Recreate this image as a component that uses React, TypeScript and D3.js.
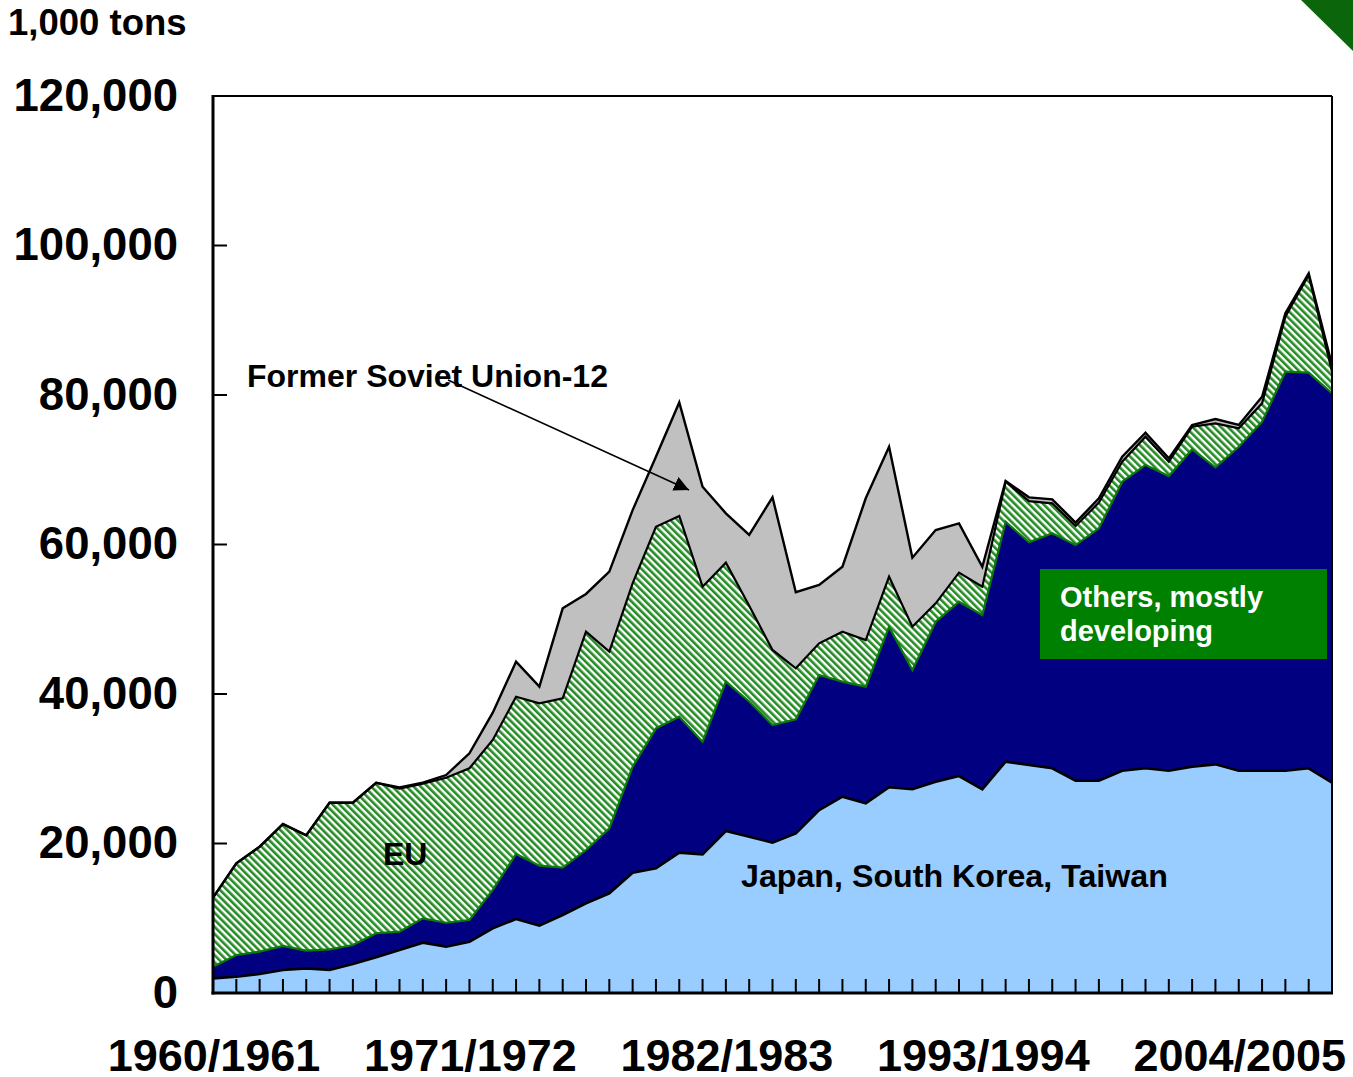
import React, { useEffect, useRef } from "react";
import * as d3 from "d3";

const years = d3.range(1960, 2009);
const japanKoreaTaiwan = [1960, 2180, 2540, 3080, 3300, 3080, 3880, 4770, 5750, 6730, 6200, 6860, 8650, 9900, 9010, 10430, 12000, 13340, 16100, 16680, 18770, 18550, 21670, 20910, 20110, 21360, 24480, 26260, 25370, 27520, 27250, 28270, 29030, 27250, 30940, 30500, 30060, 28410, 28410, 29740, 30060, 29740, 30280, 30590, 29740, 29740, 29740, 30060, 28140];
const othersDeveloping = [1560, 2900, 2990, 3210, 2360, 2760, 2540, 3220, 2450, 3260, 3200, 2910, 5150, 8700, 8020, 6340, 7130, 8690, 14180, 18730, 18190, 15070, 19980, 18090, 15740, 15250, 18060, 15390, 15610, 21480, 15960, 21400, 23320, 23320, 32110, 29800, 31440, 31520, 33750, 38660, 40580, 39420, 42450, 39740, 43340, 46690, 53380, 52930, 52090];
const eu = [9230, 12270, 14040, 16310, 15440, 19620, 19040, 20140, 19130, 18010, 19400, 20290, 20050, 21040, 21720, 22650, 29210, 23630, 24530, 26970, 26850, 20740, 15920, 12800, 10040, 6830, 4240, 6690, 6240, 6690, 5790, 2460, 3880, 3790, 5350, 5500, 4010, 2550, 3440, 2680, 3780, 1920, 3030, 5880, 2460, 2450, 7360, 13060, 2890];
const formerSovietUnion12 = [0, 0, 0, 0, 0, 0, 0, 0, 170, 130, 360, 2010, 3650, 4680, 2230, 12040, 5040, 10710, 9790, 9370, 15190, 13370, 6600, 9500, 20420, 10170, 7800, 8690, 18960, 17390, 9240, 9810, 6600, 2670, 100, 510, 530, 440, 580, 670, 540, 450, 230, 580, 450, 890, 450, 230, 890];

const yTicks = [0, 20000, 40000, 60000, 80000, 100000, 120000];
const xLabelYears = [1960, 1971, 1982, 1993, 2004];

const FONT = "'Liberation Sans', Arial, Helvetica, sans-serif";

export default function App() {
  const ref = useRef<SVGSVGElement>(null);

  useEffect(() => {
    const svg = d3.select(ref.current);
    svg.selectAll("*").remove();

    const left = 213, right = 1332, top = 96, bottom = 993;
    const x = d3.scaleLinear().domain([1960, 2008]).range([left, right]);
    const y = d3.scaleLinear().domain([0, 120000]).range([bottom, top]);

    const defs = svg.append("defs");
    const pat = defs.append("pattern")
      .attr("id", "hatch")
      .attr("patternUnits", "userSpaceOnUse")
      .attr("width", 5)
      .attr("height", 5)
      .attr("patternTransform", "rotate(-45)");
    pat.append("rect").attr("width", 5).attr("height", 5).attr("fill", "#ffffff");
    pat.append("rect").attr("width", 2.6).attr("height", 5).attr("fill", "#228b22");

    defs.append("marker")
      .attr("id", "arrow")
      .attr("viewBox", "0 0 10 10")
      .attr("refX", 10).attr("refY", 5)
      .attr("markerWidth", 15).attr("markerHeight", 15)
      .attr("markerUnits", "userSpaceOnUse")
      .attr("orient", "auto")
      .append("path").attr("d", "M0,0 L10,5 L0,10 Z").attr("fill", "#000");

    // corner decoration
    svg.append("path")
      .attr("d", "M1301,0 L1353,0 L1353,51 Z")
      .attr("fill", "#0b650b");

    const table = years.map((yr, i) => ({
      year: yr,
      japan: japanKoreaTaiwan[i],
      others: othersDeveloping[i],
      eu: eu[i],
      fsu: formerSovietUnion12[i],
    }));
    const keys = ["japan", "others", "eu", "fsu"];
    const stacked = d3.stack<any>().keys(keys)(table);

    const fills: Record<string, string> = {
      japan: "#99ccff",
      others: "#000080",
      eu: "url(#hatch)",
      fsu: "#c0c0c0",
    };
    const strokes: Record<string, [string, number]> = {
      japan: ["#000", 2.6],
      others: ["#0a7a0a", 2.2],
      eu: ["#000", 2.2],
      fsu: ["#000", 2.4],
    };

    const area = d3.area<any>()
      .x((d) => x(d.data.year))
      .y0((d) => y(d[0]))
      .y1((d) => y(d[1]));
    const line = d3.line<any>()
      .x((d) => x(d.data.year))
      .y((d) => y(d[1]));

    const g = svg.append("g");
    stacked.forEach((s) => {
      g.append("path").attr("d", area(s) as string).attr("fill", fills[s.key]);
    });
    stacked.forEach((s) => {
      g.append("path")
        .attr("d", line(s) as string)
        .attr("fill", "none")
        .attr("stroke", strokes[s.key][0])
        .attr("stroke-width", strokes[s.key][1])
        .attr("stroke-linejoin", "miter");
    });

    // frame
    svg.append("line").attr("x1", left).attr("x2", right).attr("y1", top).attr("y2", top)
      .attr("stroke", "#000").attr("stroke-width", 2);
    svg.append("line").attr("x1", right).attr("x2", right).attr("y1", top).attr("y2", bottom)
      .attr("stroke", "#000").attr("stroke-width", 2);
    svg.append("line").attr("x1", left).attr("x2", left).attr("y1", top - 1).attr("y2", bottom + 1.5)
      .attr("stroke", "#000").attr("stroke-width", 3);
    svg.append("line").attr("x1", left - 1.5).attr("x2", right + 1).attr("y1", bottom).attr("y2", bottom)
      .attr("stroke", "#000").attr("stroke-width", 3);

    // x ticks
    years.forEach((yr) => {
      svg.append("line")
        .attr("x1", x(yr)).attr("x2", x(yr))
        .attr("y1", bottom).attr("y2", bottom - 14)
        .attr("stroke", "#000").attr("stroke-width", 2);
    });
    // y ticks
    yTicks.forEach((v) => {
      svg.append("line")
        .attr("x1", left).attr("x2", left + 14)
        .attr("y1", y(v)).attr("y2", y(v))
        .attr("stroke", "#000").attr("stroke-width", 2);
      svg.append("text")
        .attr("x", 178).attr("y", y(v) - 1.5)
        .attr("dy", "0.36em")
        .attr("text-anchor", "end")
        .attr("font-family", FONT).attr("font-weight", "bold").attr("font-size", 45.5)
        .attr("fill", "#000")
        .text(d3.format(",")(v));
    });
    xLabelYears.forEach((yr) => {
      svg.append("text")
        .attr("x", x(yr) + 1).attr("y", 1071)
        .attr("text-anchor", "middle")
        .attr("font-family", FONT).attr("font-weight", "bold").attr("font-size", 45)
        .attr("fill", "#000")
        .text(`${yr}/${yr + 1}`);
    });

    svg.append("text")
      .attr("x", 8).attr("y", 35)
      .attr("font-family", FONT).attr("font-weight", "bold").attr("font-size", 36.5)
      .attr("fill", "#000")
      .text("1,000 tons");

    // annotations
    svg.append("line")
      .attr("x1", 448).attr("y1", 380).attr("x2", 689).attr("y2", 490)
      .attr("stroke", "#000").attr("stroke-width", 1.6)
      .attr("marker-end", "url(#arrow)");
    svg.append("text")
      .attr("x", 247).attr("y", 387)
      .attr("font-family", FONT).attr("font-weight", "bold").attr("font-size", 32)
      .attr("fill", "#000")
      .text("Former Soviet Union-12");
    svg.append("text")
      .attr("x", 383).attr("y", 865)
      .attr("font-family", FONT).attr("font-weight", "bold").attr("font-size", 32)
      .attr("fill", "#000")
      .text("EU");
    svg.append("text")
      .attr("x", 741).attr("y", 887)
      .attr("font-family", FONT).attr("font-weight", "bold").attr("font-size", 32.2)
      .attr("fill", "#000")
      .text("Japan, South Korea, Taiwan");

    svg.append("rect")
      .attr("x", 1040).attr("y", 569).attr("width", 287).attr("height", 90)
      .attr("fill", "#008000");
    svg.append("text")
      .attr("x", 1060).attr("y", 607)
      .attr("font-family", FONT).attr("font-weight", "bold").attr("font-size", 29)
      .attr("fill", "#fff")
      .text("Others, mostly");
    svg.append("text")
      .attr("x", 1060).attr("y", 641)
      .attr("font-family", FONT).attr("font-weight", "bold").attr("font-size", 29)
      .attr("fill", "#fff")
      .text("developing");
  }, []);

  return (
    <svg
      ref={ref}
      width={1353}
      height={1077}
      style={{ position: "absolute", left: 0, top: 0, background: "#fff" }}
    />
  );
}
